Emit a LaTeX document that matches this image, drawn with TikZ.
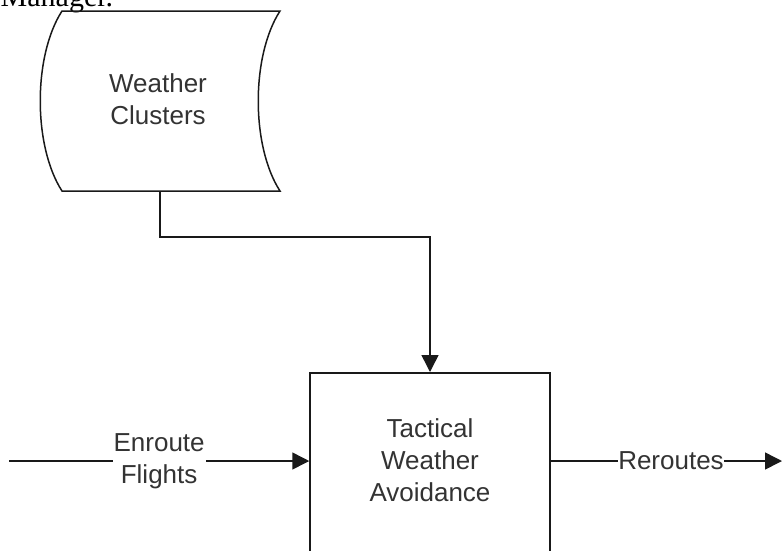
\documentclass[tikz,border=0pt]{standalone}
\usepackage{fontspec}
\setmainfont{Liberation Sans}
\newfontfamily\seriffont{Liberation Serif}
\usetikzlibrary{arrows.meta,calc}
\begin{document}
\begin{tikzpicture}[x=1pt,y=-1pt,
  line width=1.5pt, draw=black!90,
  lbl/.style={font=\fontsize{26}{32}\selectfont, align=center, text=black!80},
  arr/.style={-{Triangle[length=17pt,width=17pt]}},
  gapl/.style={lbl, fill=white, inner sep=1pt}]
\useasboundingbox (0,0) rectangle (782,550);
\clip (0,0) rectangle (782,550);
\node[anchor=base west, font=\seriffont\fontsize{30}{36}\selectfont, inner sep=0] (mgr) at (0,6) {Manager.};
% Weather Clusters shape
\draw (62,11) -- (280,11) .. controls (251,56) and (251,146) .. (280,191)
  -- (62,191) .. controls (33,146) and (33,56) .. (62,11) -- cycle;
\node[lbl] (wc) at (158,99) {Weather\\Clusters};
\coordinate (wcout) at (160,191);
% Tactical box
\node[draw, minimum width=240pt, minimum height=260pt, anchor=north, inner sep=0] (tw) at (430,372) {};
\node[lbl] (twt) at (430,460) {Tactical\\Weather\\Avoidance};
\coordinate (twin) at ($(tw.north west)+(0,89)$);
\coordinate (twout) at ($(tw.north east)+(0,89)$);
\coordinate (ein) at (9,461);
\coordinate (rout) at (782,461);
% connectors
\draw[arr] (wcout) -- ++(0,46) -| (tw.north);
\draw[arr] (ein) -- (twin) node[midway, gapl] (el) {Enroute\\Flights};
\draw[arr] (twout) -- (rout) node[pos=0.52, gapl, inner sep=0.5pt] (rl) {Reroutes};
\end{tikzpicture}
\end{document}
